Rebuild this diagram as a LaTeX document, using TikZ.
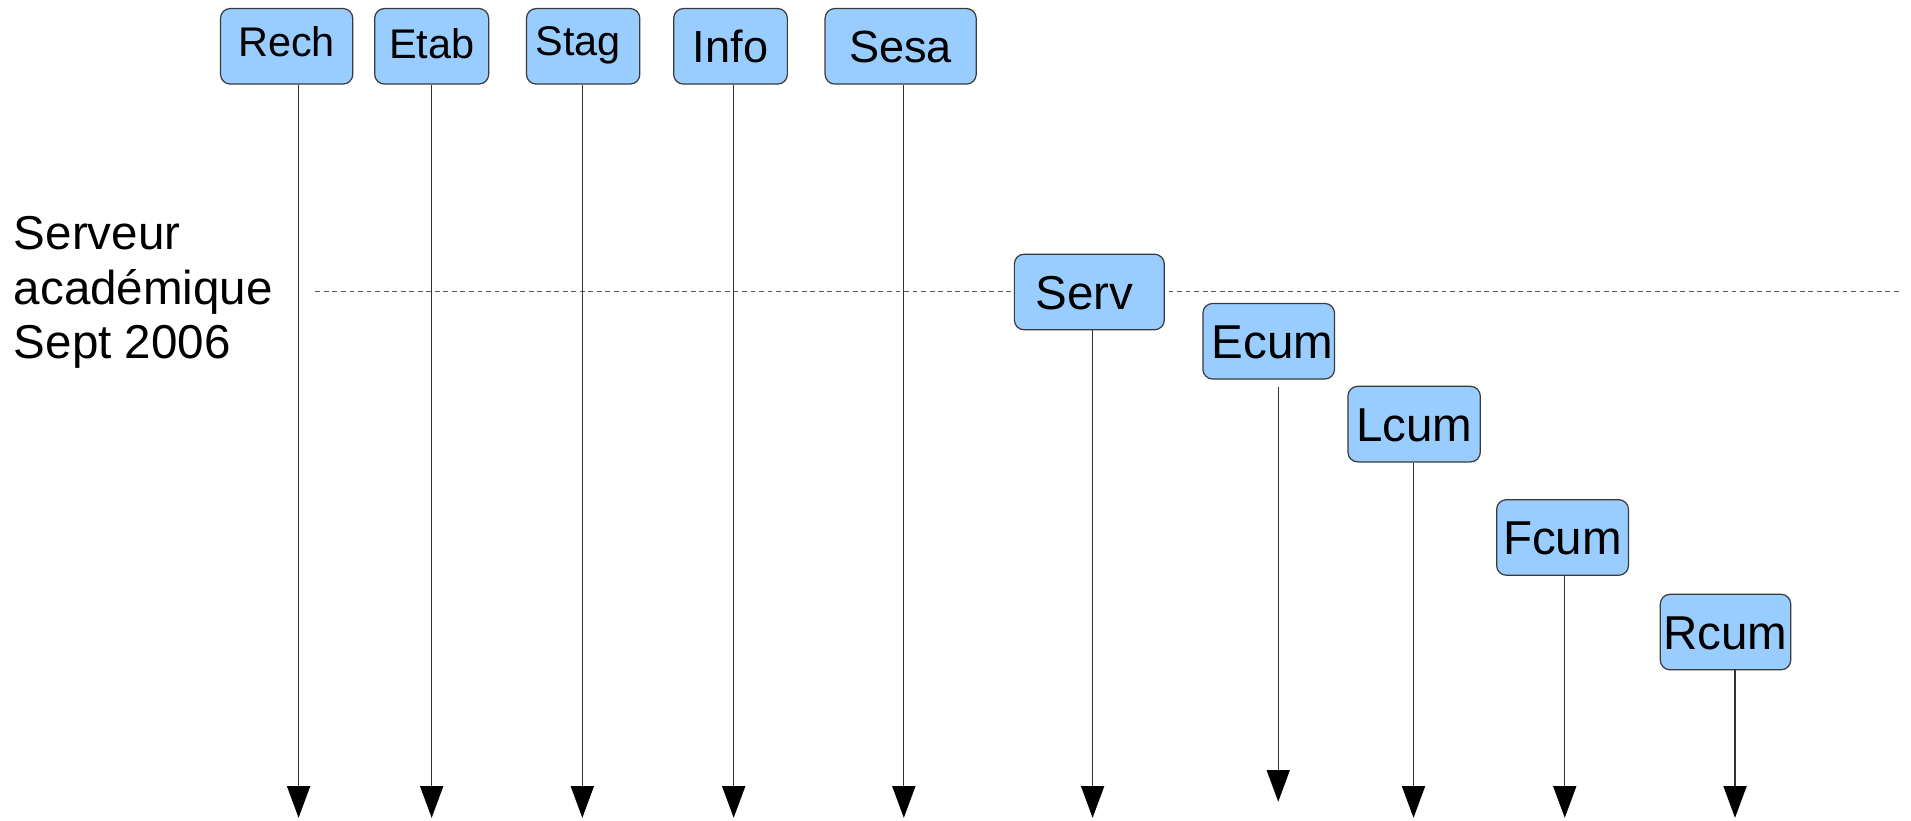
\documentclass[tikz,border=0pt]{standalone}
\usepackage{fontspec}
\setmainfont{Liberation Sans}
\usetikzlibrary{arrows.meta}
\definecolor{boxfill}{HTML}{99CCFF}
\definecolor{boxline}{HTML}{3A3A3A}
\begin{document}
\begin{tikzpicture}[x=0.5pt,y=-0.5pt,
  lane/.style={draw=boxline, line width=0.5pt, fill=boxfill, rounded corners=4pt,
    inner sep=0pt, text depth=0pt, minimum height=31pt},
  small/.style={font=\fontsize{17pt}{20pt}\selectfont, text height=12.2pt},
  mid/.style={font=\fontsize{18.5pt}{22pt}\selectfont, text height=13.25pt},
  big/.style={font=\fontsize{19.5pt}{23pt}\selectfont, text height=14pt},
  life/.style={draw=black!80, line width=0.45pt, -{Triangle[length=13pt,width=9.5pt,color=black]}},
  sep/.style={draw=black!65, line width=0.5pt, dash pattern=on 2pt off 1.5pt}]
\useasboundingbox (0,0) rectangle (1568,673);

% time separator
\coordinate (sepL) at (258.8,239.3);
\coordinate (sepR) at (1560.8,239.3);
\draw[sep] (sepL) -- (sepR);

% left caption
\node[anchor=base west, align=left, inner sep=0pt,
  font=\fontsize{19.5pt}{22.25pt}\selectfont] (cap) at (11,294)
  {Serveur\\acad\'emique\\Sept 2006};

% boxes
\node[lane, small, minimum width=54.25pt] (Rech) at (235.2,38) {\raisebox{2pt}{Rech}};
\node[lane, small, minimum width=46.75pt] (Etab) at (354.2,38) {\raisebox{0.9pt}{Etab}};
\node[lane, small, minimum width=46.5pt]  (Stag) at (478.5,38) {\raisebox{2.25pt}{Stag}\kern4pt};
\node[lane, mid,   minimum width=46.65pt] (Info) at (599.4,38) {Info};
\node[lane, mid,   minimum width=62pt]    (Sesa) at (739,38)   {Sesa};
\node[lane, big,   minimum width=61.5pt]  (Serv) at (893.8,239.6) {Serv\kern4pt};
\node[lane, big,   minimum width=54pt]    (Ecum) at (1041,280)  {\kern3pt Ecum};
\node[lane, big,   minimum width=54.3pt]  (Lcum) at (1160.3,348) {Lcum};
\node[lane, big,   minimum width=54.1pt]  (Fcum) at (1282.1,441) {Fcum};
\node[lane, big,   minimum width=53.5pt]  (Rcum) at (1415.8,518.6) {Rcum};

% lifeline ends
\coordinate (eRech) at (245,671);
\coordinate (eEtab) at (354.2,671);
\coordinate (eStag) at (477.8,671);
\coordinate (eInfo) at (602,671);
\coordinate (eSesa) at (741.6,671);
\coordinate (eServ) at (896.5,671);
\coordinate (eEcum) at (1048.8,657.8);
\coordinate (eLcum) at (1159.8,671);
\coordinate (eFcum) at (1283.9,671);
\coordinate (eRcum) at (1423.6,671);

% lifelines
\draw[life] (Rech.south -| eRech) -- (eRech);
\draw[life] (Etab.south -| eEtab) -- (eEtab);
\draw[life] (Stag.south -| eStag) -- (eStag);
\draw[life] (Info.south -| eInfo) -- (eInfo);
\draw[life] (Sesa.south -| eSesa) -- (eSesa);
\draw[life] (Serv.south -| eServ) -- (eServ);
\draw[life, shorten <=3pt] (Ecum.south -| eEcum) -- (eEcum);
\draw[life] (Lcum.south -| eLcum) -- (eLcum);
\draw[life] (Fcum.south -| eFcum) -- (eFcum);
\draw[life] (Rcum.south -| eRcum) -- (eRcum);
\end{tikzpicture}
\end{document}
